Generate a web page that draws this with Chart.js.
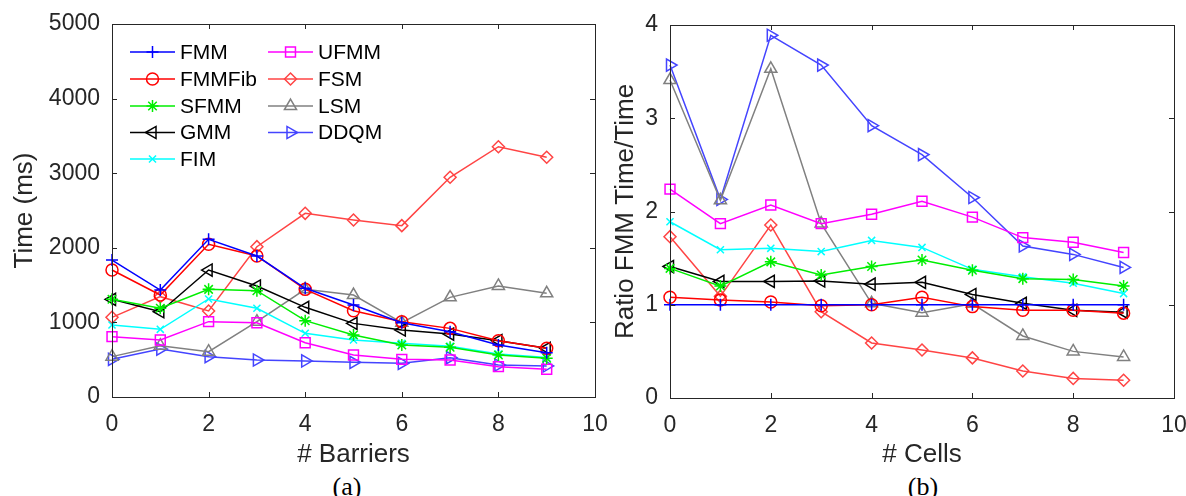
<!DOCTYPE html>
<html lang="en">
<head>
<meta charset="utf-8">
<title>FMM timing charts</title>
<script src="https://cdn.jsdelivr.net/npm/chart.js"></script>
<style>
  body { margin: 0; background: #fff; width: 1186px; height: 496px; overflow: hidden; position: relative; }
  .box { position: absolute; top: 0; height: 470px; }
  #boxA { left: 0; width: 630px; }
  #boxB { left: 600px; width: 586px; }
  .cap { position: absolute; top: 472px; font: 26px "Liberation Serif", serif; color: #000; transform: translateX(-50%); }
</style>
</head>
<body>
<div class="box" id="boxA"><canvas id="chartA"></canvas></div>
<div class="box" id="boxB"><canvas id="chartB"></canvas></div>
<div class="cap" style="left: 347px;">(a)</div>
<div class="cap" style="left: 923px;">(b)</div>
<script>
// x positions (number of barriers / cells)
const steps = [0, 1, 2, 3, 4, 5, 6, 7, 8, 9];

// (a) time in ms vs # barriers
const timeFMM    = [1836, 1434, 2114, 1890, 1457, 1233, 996, 875, 697, 594];
const timeFMMFib = [1702, 1367, 2047, 1890, 1443, 1157, 1010, 920, 755, 652];
const timeSFMM   = [1309, 1189, 1443, 1425, 1023, 831, 697, 666, 563, 519];
const timeGMM    = [1309, 1143, 1702, 1488, 1202, 987, 898, 844, 755, 652];
const timeFIM    = [965, 907, 1314, 1189, 854, 764, 720, 680, 575, 530];
const timeUFMM   = [809, 764, 1010, 996, 728, 563, 505, 496, 407, 371];
const timeFSM    = [1068, 1345, 1153, 2015, 2462, 2373, 2297, 2945, 3355, 3213];
const timeLSM    = [541, 688, 608, 1010, 1443, 1367, 996, 1336, 1488, 1390];
const timeDDQM   = [505, 643, 541, 496, 483, 465, 451, 527, 429, 416];

// (b) ratio FMM time / time vs # cells
const ratioFMM    = [1, 1, 1, 1, 1, 1, 1, 1, 1, 1];
const ratioFMMFib = [1.08, 1.05, 1.03, 0.99, 1.0, 1.08, 0.98, 0.94, 0.94, 0.91];
const ratioSFMM   = [1.39, 1.20, 1.46, 1.32, 1.41, 1.48, 1.37, 1.28, 1.27, 1.20];
const ratioGMM    = [1.41, 1.25, 1.25, 1.255, 1.22, 1.24, 1.11, 1.015, 0.94, 0.92];
const ratioFIM    = [1.89, 1.59, 1.605, 1.57, 1.69, 1.615, 1.38, 1.30, 1.23, 1.12];
const ratioUFMM   = [2.24, 1.87, 2.07, 1.87, 1.97, 2.11, 1.94, 1.72, 1.67, 1.56];
const ratioFSM    = [1.73, 1.09, 1.855, 0.925, 0.59, 0.515, 0.43, 0.29, 0.21, 0.19];
const ratioLSM    = [3.41, 2.12, 3.53, 1.87, 1.015, 0.915, 1.01, 0.665, 0.50, 0.44];
const ratioDDQM   = [3.57, 2.13, 3.89, 3.57, 2.92, 2.61, 2.15, 1.63, 1.54, 1.40];

const methods = ['FMM', 'FMMFib', 'SFMM', 'GMM', 'FIM', 'UFMM', 'FSM', 'LSM', 'DDQM'];
const timeSeries  = [timeFMM, timeFMMFib, timeSFMM, timeGMM, timeFIM, timeUFMM, timeFSM, timeLSM, timeDDQM];
const ratioSeries = [ratioFMM, ratioFMMFib, ratioSFMM, ratioGMM, ratioFIM, ratioUFMM, ratioFSM, ratioLSM, ratioDDQM];

// marker look for each method, same order as above
const looks = [
  { color: '#0000ff', style: 'cross',    rot: 0,   r: 6 },
  { color: '#ff0000', style: 'circle',   rot: 0,   r: 6 },
  { color: '#00ee00', style: 'star',     rot: 0,   r: 6 },
  { color: '#000000', style: 'triangle', rot: -90, r: 7 },
  { color: '#00ffff', style: 'crossRot', rot: 0,   r: 5 },
  { color: '#ff00ff', style: 'rect',     rot: 0,   r: 7 },
  { color: '#ff4444', style: 'rectRot',  rot: 0,   r: 6 },
  { color: '#808080', style: 'triangle', rot: 0,   r: 7 },
  { color: '#4444ff', style: 'triangle', rot: 90,  r: 7 }
];

const axisCol = '#262626';
const fontName = '"Liberation Sans", Arial, sans-serif';

function makeSets(series) {
  return series.map((vals, i) => ({
    label: methods[i],
    data: steps.map((s, j) => ({ x: s, y: vals[j] })),
    borderColor: looks[i].color,
    borderWidth: 1.5,
    pointStyle: looks[i].style,
    pointRotation: looks[i].rot,
    pointRadius: looks[i].r,
    pointHoverRadius: looks[i].r,
    pointBorderColor: looks[i].color,
    pointBackgroundColor: 'rgba(0,0,0,0)',
    pointBorderWidth: 1.5,
    tension: 0,
    clip: false
  }));
}

// box around the plot with inward ticks, like the original
const frame = {
  id: 'frame',
  afterDraw(chart) {
    const { ctx, chartArea: a, scales } = chart;
    ctx.save();
    ctx.strokeStyle = axisCol;
    ctx.lineWidth = 1;
    ctx.strokeRect(Math.round(a.left) + 0.5, Math.round(a.top) + 0.5, Math.round(a.right - a.left), Math.round(a.bottom - a.top));
    ctx.beginPath();
    scales.x.ticks.forEach(t => {
      const px = Math.round(scales.x.getPixelForValue(t.value)) + 0.5;
      ctx.moveTo(px, a.bottom); ctx.lineTo(px, a.bottom - 5);
      ctx.moveTo(px, a.top); ctx.lineTo(px, a.top + 5);
    });
    scales.y.ticks.forEach(t => {
      const py = Math.round(scales.y.getPixelForValue(t.value)) + 0.5;
      ctx.moveTo(a.left, py); ctx.lineTo(a.left + 5, py);
      ctx.moveTo(a.right, py); ctx.lineTo(a.right - 5, py);
    });
    ctx.stroke();
    ctx.restore();
  }
};

// two-column legend inside panel (a)
const legendSpots = [
  [130, 52], [130, 79], [130, 106], [130, 132.5], [130, 159],
  [268, 52], [268, 79], [268, 106], [268, 132.5]
];
const boxLegend = {
  id: 'boxLegend',
  afterDraw(chart) {
    const ctx = chart.ctx;
    ctx.save();
    ctx.font = '21px ' + fontName;
    ctx.textBaseline = 'middle';
    methods.forEach((m, i) => {
      const [x, y] = legendSpots[i];
      const lk = looks[i];
      ctx.strokeStyle = lk.color;
      ctx.fillStyle = 'rgba(0,0,0,0)';
      ctx.lineWidth = 1.5;
      ctx.beginPath();
      ctx.moveTo(x, y); ctx.lineTo(x + 45, y);
      ctx.stroke();
      Chart.helpers.drawPoint(ctx, { pointStyle: lk.style, rotation: lk.rot, radius: lk.r, borderWidth: 1.5 }, x + 22.5, y);
      ctx.fillStyle = '#000';
      ctx.fillText(m, x + 50, y + 1);
    });
    ctx.restore();
  }
};

function makeChart(id, series, opts) {
  return new Chart(document.getElementById(id), {
    type: 'line',
    data: { datasets: makeSets(series) },
    plugins: opts.plugins,
    options: {
      responsive: true,
      maintainAspectRatio: false,
      animation: false,
      events: [],
      layout: { padding: { top: opts.top, right: opts.right, left: 0, bottom: 0 } },
      plugins: { legend: { display: false }, tooltip: { enabled: false } },
      scales: {
        x: {
          type: 'linear', min: 0, max: 10,
          grid: { display: false, drawTicks: false },
          border: { display: false },
          ticks: { stepSize: 2, color: axisCol, font: { family: fontName, size: 23 }, padding: 14, maxRotation: 0 },
          title: { display: true, text: opts.xTitle, color: axisCol, font: { family: fontName, size: 26 }, padding: { top: 0, bottom: 0 } },
          afterFit: s => { s.height = opts.xHeight; s.paddingLeft = 0; s.paddingRight = 0; }
        },
        y: {
          min: 0, max: opts.yMax,
          grid: { display: false, drawTicks: false },
          border: { display: false },
          ticks: { stepSize: opts.yStep, color: axisCol, font: { family: fontName, size: 23 }, padding: 12,
                   callback: v => String(v) },
          title: { display: true, text: opts.yTitle, color: axisCol, font: { family: fontName, size: 26 }, padding: { top: opts.yTitlePad, bottom: 0 } },
          afterFit: s => { s.width = opts.yWidth; s.paddingTop = 0; s.paddingBottom = 0; }
        }
      }
    }
  });
}

makeChart('chartA', timeSeries, {
  plugins: [frame, boxLegend], top: 24, right: 35, xHeight: 73, yWidth: 112,
  yMax: 5000, yStep: 1000, xTitle: '# Barriers', yTitle: 'Time (ms)', yTitlePad: 9
});
makeChart('chartB', ratioSeries, {
  plugins: [frame], top: 25, right: 12, xHeight: 72, yWidth: 70,
  yMax: 4, yStep: 1, xTitle: '# Cells', yTitle: 'Ratio FMM Time/Time', yTitlePad: 10
});
</script>
</body>
</html>
